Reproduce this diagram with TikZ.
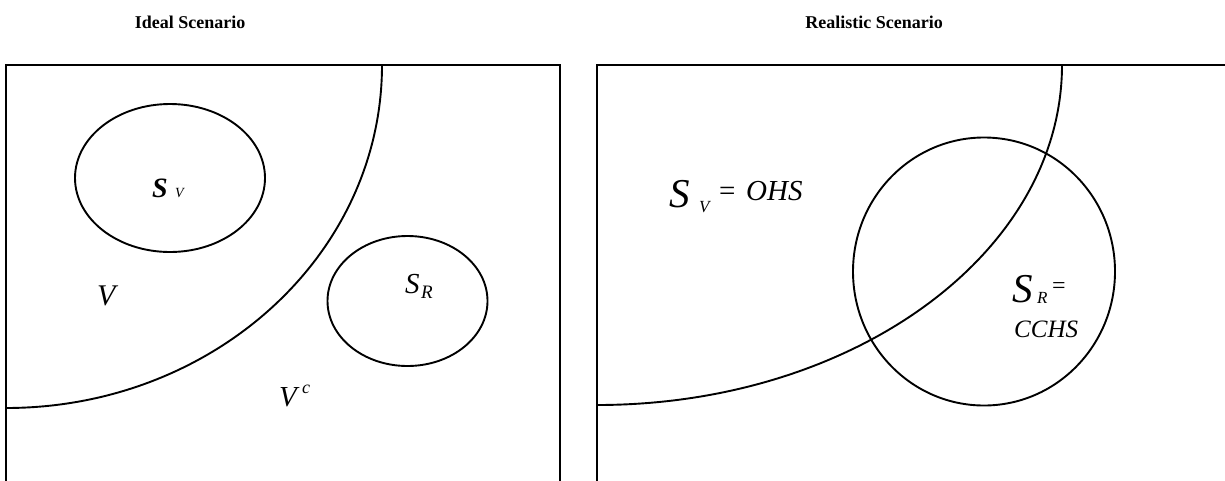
\documentclass[tikz,border=0pt]{standalone}
\usepackage{fontspec}
\setmainfont{Liberation Serif}
\usetikzlibrary{shapes.geometric}
\begin{document}
\begin{tikzpicture}[x=1pt,y=-1pt,
  line/.style={line width=1.9pt},
  region/.style={ellipse, draw, line width=1.9pt, inner sep=0pt},
  lbl/.style={inner sep=0pt, anchor=base west, font=\itshape},
  title/.style={inner sep=0pt, font=\bfseries\fontsize{18}{20}\selectfont}]
\useasboundingbox (0,0) rectangle (1225,480);
\clip (0,0) rectangle (1225,480);
% titles
\node[title] (t1) at (190,22) {Ideal Scenario};
\node[title] (t2) at (874,22) {Realistic Scenario};
% left frame
\draw[line] (6,485) -- (6,65) -- (560,65) -- (560,485);
\draw[line] (382,65) arc[start angle=0, end angle=-90, x radius=376pt, y radius=343pt];
\node[region, minimum width=190pt, minimum height=148pt] (sv) at (170,178) {};
\node[region, minimum width=160pt, minimum height=130pt] (sr) at (407.5,301) {};
\node[lbl, font=\bfseries\itshape\fontsize{28}{30}\selectfont] (svS) at (152,197) {S};
\node[lbl, font=\itshape\fontsize{14}{16}\selectfont] (svV) at (175,197) {V};
\node[lbl, font=\itshape\fontsize{30}{32}\selectfont] (v) at (97,305) {V};
\node[lbl, font=\itshape\fontsize{29}{31}\selectfont] (vc) at (279,406) {V};
\node[lbl, font=\itshape\fontsize{18}{20}\selectfont] (vcc) at (302,393) {c};
\node[lbl, font=\itshape\fontsize{29}{31}\selectfont] (srS) at (405,293) {S};
\node[lbl, font=\itshape\fontsize{19}{21}\selectfont] (srR) at (421,298) {R};
% right frame
\draw[line] (597,485) -- (597,65) -- (1230,65);
\draw[line] (1062,65) arc[start angle=0, end angle=-90, x radius=465pt, y radius=340pt];
\node[region, minimum width=262pt, minimum height=268pt] (cc) at (984,271.5) {};
\node[lbl, font=\itshape\fontsize{41}{43}\selectfont] (rS) at (669,207) {S};
\node[lbl, font=\itshape\fontsize{17}{19}\selectfont] (rV) at (699,212) {V};
\node[lbl, font=\fontsize{29}{31}\selectfont] (req1) at (719,200) {=};
\node[lbl, font=\itshape\fontsize{29}{31}\selectfont] (rOHS) at (746,200) {OHS};
\node[lbl, font=\itshape\fontsize{41}{43}\selectfont] (rS2) at (1012,302) {S};
\node[lbl, font=\itshape\fontsize{17}{19}\selectfont] (rR) at (1037,303) {R};
\node[lbl, font=\fontsize{24}{26}\selectfont] (req) at (1052,293) {=};
\node[lbl, font=\itshape\fontsize{25}{27}\selectfont] (rC) at (1014,337) {CCHS};
\end{tikzpicture}
\end{document}
